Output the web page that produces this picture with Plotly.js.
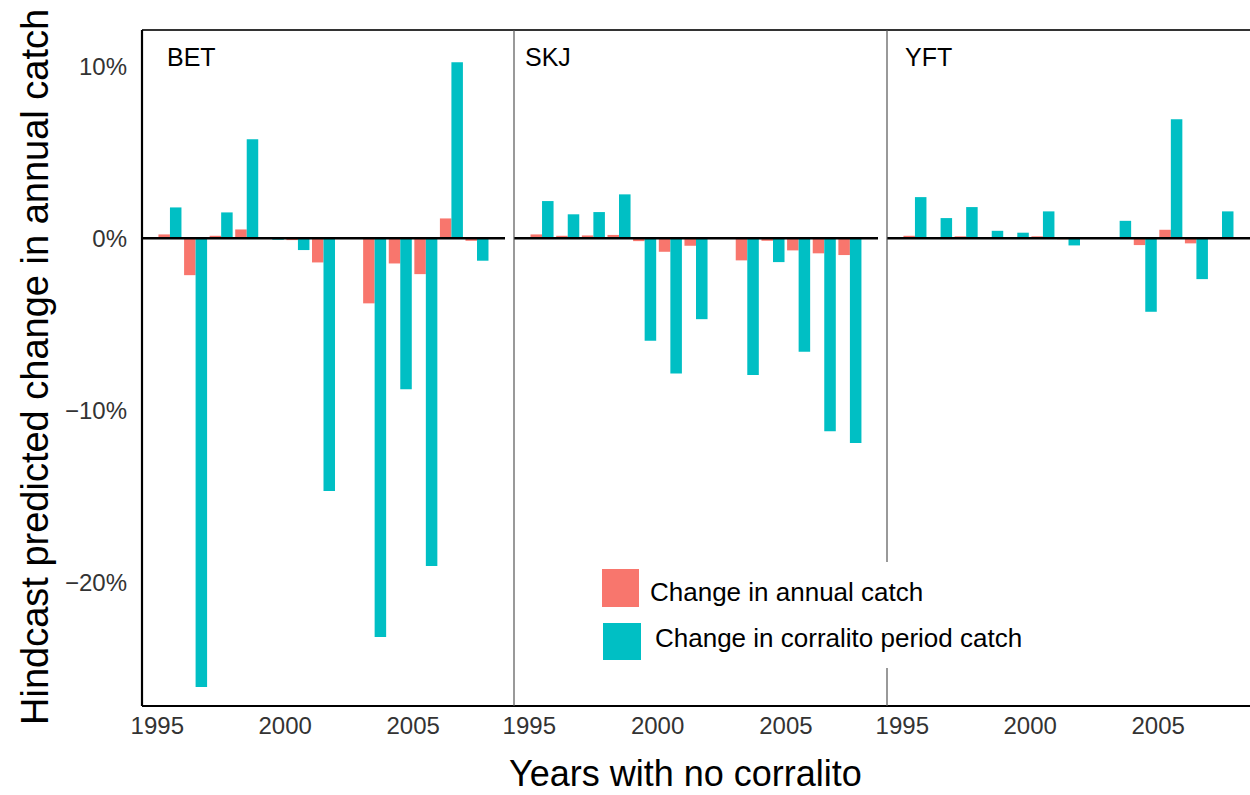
<!DOCTYPE html>
<html>
<head>
<meta charset="utf-8">
<script src="https://cdn.plot.ly/plotly-3.0.1.min.js"></script>
<style>
  html, body { margin: 0; padding: 0; background: #ffffff; }
  #chart { width: 1250px; height: 795px; }
</style>
</head>
<body>
<div id="chart"></div>
<script>
// Hindcast change in catch (percent) for each year without a corralito, by species.
const years = [1995, 1996, 1997, 1998, 1999, 2000, 2001, 2002, 2003, 2004, 2005, 2006, 2007];
const species = ["BET", "SKJ", "YFT"];
const seriesNames = ["Change in annual catch", "Change in corralito period catch"];

// Bigeye tuna
const betAnnual     = [0.23, -2.14, 0.15, 0.52, 0.05, -0.10, -1.40, null, -3.78, -1.46, -2.08, 1.16, -0.14];
const betCorralito  = [1.80, -26.1, 1.51, 5.76, -0.08, -0.68, -14.69, null, -23.19, -8.77, -19.06, 10.24, -1.30];
// Skipjack tuna
const skjAnnual     = [0.23, 0.15, 0.17, 0.20, -0.16, -0.78, -0.43, null, -1.28, -0.14, -0.70, -0.87, -0.97];
const skjCorralito  = [2.17, 1.40, 1.53, 2.56, -5.96, -7.86, -4.70, null, -7.94, -1.38, -6.60, -11.22, -11.90];
// Yellowfin tuna
const yftAnnual     = [0.15, 0.06, 0.12, 0.06, 0.05, 0.12, -0.05, null, 0.08, -0.39, 0.50, -0.29, 0.08];
const yftCorralito  = [2.40, 1.18, 1.82, 0.44, 0.33, 1.57, -0.41, null, 1.02, -4.27, 6.93, -2.37, 1.57];

const yTicks = [-20, -10, 0, 10];
const yTickText = yTicks.map(v => (v < 0 ? "\u2212" : "") + Math.abs(v) + "%");

const RED = "#F8766D";
const TEAL = "#00BFC4";
const FONT = "Arial, 'Liberation Sans', Helvetica, sans-serif";

// each year's bars sit in the middle of that year
const xDates = years.map(y => y + "-07-01");

const W = 1250, H = 795;
const M = { l: 142, r: 0, t: 30, b: 89 };
const plotW = W - M.l - M.r, plotH = H - M.t - M.b;
const px = v => (v - M.l) / plotW;       // page x -> paper x
const py = v => (H - M.b - v) / plotH;   // page y -> paper y

const panels = [
  { axis: "x",  annual: betAnnual, corr: betCorralito, domain: [px(142), px(505)], labelX: px(165) },
  { axis: "x2", annual: skjAnnual, corr: skjCorralito, domain: [px(514), px(878)], labelX: px(523) },
  { axis: "x3", annual: yftAnnual, corr: yftCorralito, domain: [px(887), px(1250)], labelX: px(903) }
];

const traces = [];
panels.forEach((p, i) => {
  traces.push({
    type: "bar", x: xDates, y: p.annual, xaxis: p.axis, yaxis: "y",
    name: seriesNames[0], legendgroup: "a", showlegend: false,
    marker: { color: RED, line: { width: 0 } }
  });
  traces.push({
    type: "bar", x: xDates, y: p.corr, xaxis: p.axis, yaxis: "y",
    name: seriesNames[1], legendgroup: "c", showlegend: false,
    marker: { color: TEAL, line: { width: 0 } }
  });
});

const xRange = ["1994-05-28", "2008-08-04"];
function xAxis(domain) {
  return {
    domain: domain, anchor: "y", type: "date", range: xRange,
    tick0: "1995-01-01", dtick: "M60", tickformat: "%Y",
    showgrid: false, zeroline: false, showline: false,
    ticks: "", ticklabelstandoff: 3,
    tickfont: { family: FONT, size: 24, color: "#333333" },
    fixedrange: true
  };
}

const shapes = [];
// zero reference line in each panel
["x", "x2", "x3"].forEach(a => {
  shapes.push({ type: "line", xref: a + " domain", yref: "y", x0: 0, x1: 1, y0: 0, y1: 0,
                line: { color: "#000000", width: 2.5 }, layer: "above" });
});
// panel frame
shapes.push({ type: "line", xref: "paper", yref: "paper", x0: 0, x1: 1, y0: 1, y1: 1,
              line: { color: "#333333", width: 2 } });
shapes.push({ type: "line", xref: "paper", yref: "paper", x0: 0, x1: 1, y0: 0, y1: 0,
              line: { color: "#000000", width: 2.2 } });
shapes.push({ type: "line", xref: "paper", yref: "paper", x0: 0, x1: 0, y0: 0, y1: 1,
              line: { color: "#000000", width: 2.2 } });
shapes.push({ type: "line", xref: "x2 domain", yref: "paper", x0: 0, x1: 0, y0: 0, y1: 1,
              line: { color: "#555555", width: 1.2 } });
shapes.push({ type: "line", xref: "x3 domain", yref: "paper", x0: 0, x1: 0, y0: 0, y1: 1,
              line: { color: "#555555", width: 1.2 } });
// legend box and keys
shapes.push({ type: "rect", xref: "paper", yref: "paper",
              x0: px(590), x1: px(1030), y0: py(668), y1: py(562),
              fillcolor: "#ffffff", line: { width: 0 } });
shapes.push({ type: "rect", xref: "paper", yref: "paper",
              x0: px(602), x1: px(639), y0: py(607), y1: py(569),
              fillcolor: RED, line: { width: 0 } });
shapes.push({ type: "rect", xref: "paper", yref: "paper",
              x0: px(603), x1: px(641), y0: py(660), y1: py(623),
              fillcolor: TEAL, line: { width: 0 } });

const annotations = [];
panels.forEach((p, i) => {
  annotations.push({
    text: species[i], xref: "paper", yref: "paper", x: p.labelX, y: py(57),
    xanchor: "left", yanchor: "middle", showarrow: false,
    font: { family: FONT, size: 25, color: "#000000" }
  });
});
annotations.push({
  text: seriesNames[0], xref: "paper", yref: "paper", x: px(648), y: py(592),
  xanchor: "left", yanchor: "middle", showarrow: false,
  font: { family: FONT, size: 26, color: "#000000" }
});
annotations.push({
  text: seriesNames[1], xref: "paper", yref: "paper", x: px(653), y: py(638),
  xanchor: "left", yanchor: "middle", showarrow: false,
  font: { family: FONT, size: 26, color: "#000000" }
});
// axis titles
annotations.push({
  text: "Years with no corralito", xref: "paper", yref: "paper", x: px(685), y: py(773),
  xanchor: "center", yanchor: "middle", showarrow: false,
  font: { family: FONT, size: 36, color: "#000000" }
});
annotations.push({
  text: "Hindcast predicted change in annual catch", xref: "paper", yref: "paper",
  x: px(35), y: py(367), xanchor: "center", yanchor: "middle", textangle: -90, showarrow: false,
  font: { family: FONT, size: 38, color: "#000000" }
});

const layout = {
  width: W, height: H,
  margin: M,
  paper_bgcolor: "#ffffff", plot_bgcolor: "#ffffff",
  barmode: "group", bargap: 0.1, bargroupgap: 0,
  showlegend: false,
  xaxis: xAxis(panels[0].domain),
  xaxis2: xAxis(panels[1].domain),
  xaxis3: xAxis(panels[2].domain),
  yaxis: {
    domain: [0, 1], anchor: "x", range: [-27.2, 12.12],
    tickmode: "array", tickvals: yTicks, ticktext: yTickText,
    showgrid: false, zeroline: false, showline: false,
    ticks: "", ticklabelstandoff: 14,
    tickfont: { family: FONT, size: 24, color: "#333333" },
    fixedrange: true
  },
  shapes: shapes,
  annotations: annotations
};

Plotly.newPlot("chart", traces, layout, { displayModeBar: false, staticPlot: true });
</script>
</body>
</html>
